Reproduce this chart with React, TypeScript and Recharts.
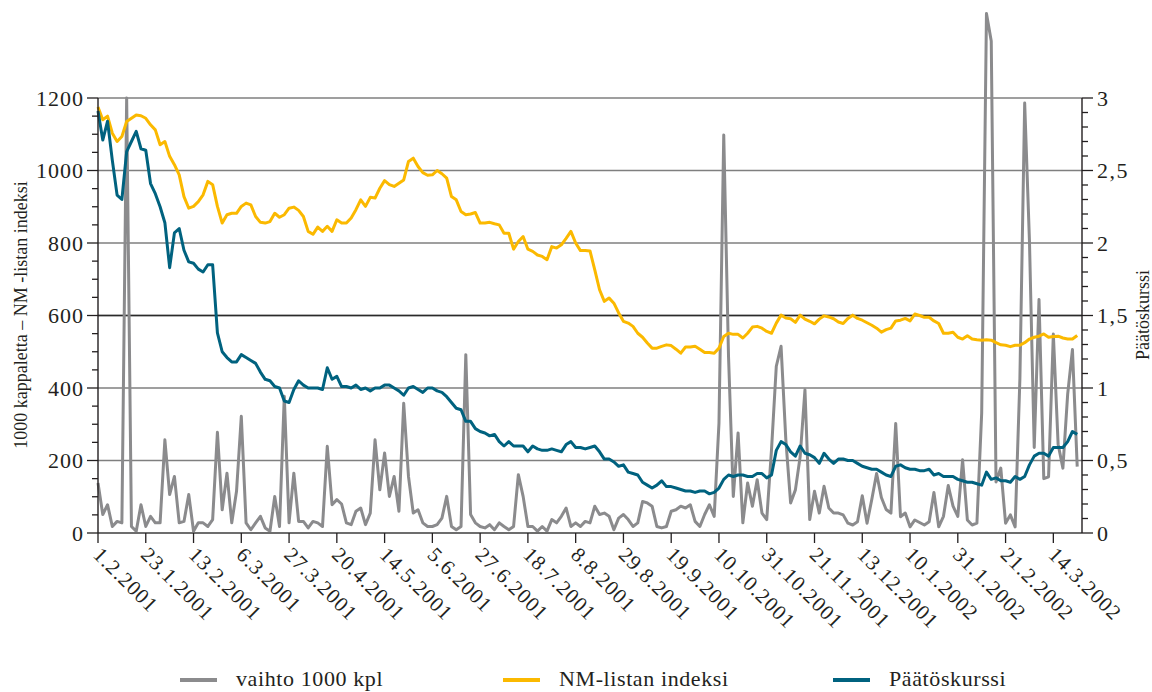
import React from 'react';
import { ComposedChart, Line, XAxis, YAxis, CartesianGrid, ReferenceLine, Label } from 'recharts';

const X_LABELS = ['1.2.2001', '23.1.2001', '13.2.2001', '6.3.2001', '27.3.2001', '20.4.2001', '14.5.2001', '5.6.2001', '27.6.2001', '18.7.2001', '8.8.2001', '29.8.2001', '19.9.2001', '10.10.2001', '31.10.2001', '21.11.2001', '13.12.2001', '10.1.2002', '31.1.2002', '21.2.2002', '14.3.2002'];
const X_TICKS = [0, 10, 20, 30, 40, 50, 60, 70, 80, 90, 100, 110, 120, 130, 140, 150, 160, 170, 180, 190, 200];
const LEFT_TICKS = [0, 50, 100, 150, 200, 250, 300, 350, 400, 450, 500, 550, 600, 650, 700, 750, 800, 850, 900, 950, 1000, 1050, 1100, 1150, 1200];
const LEFT_GRID = [0, 200, 400, 600, 800, 1000, 1200];
const RIGHT_TICKS = [0, 0.1, 0.2, 0.3, 0.4, 0.5, 0.6, 0.7, 0.8, 0.9, 1, 1.1, 1.2, 1.3, 1.4, 1.5, 1.6, 1.7, 1.8, 1.9, 2, 2.1, 2.2, 2.3, 2.4, 2.5, 2.6, 2.7, 2.8, 2.9, 3];

// vaihto 1000 kpl
const VOL = [138, 51, 78, 18, 32, 28, 1200, 18, 5, 78,
  18, 46, 28, 28, 257, 106, 156, 28, 32, 106,
  5, 28, 28, 18, 37, 278, 64, 165, 28, 115,
  322, 28, 9, 28, 46, 14, 5, 101, 18, 377,
  28, 165, 32, 32, 14, 32, 28, 18, 239, 78,
  92, 80, 28, 23, 60, 69, 23, 55, 257, 119,
  221, 101, 156, 60, 358, 156, 55, 64, 28, 18,
  18, 23, 41, 101, 18, 9, 18, 492, 51, 28,
  18, 14, 23, 9, 28, 18, 9, 18, 161, 101,
  18, 18, 5, 18, 5, 37, 28, 46, 69, 18,
  28, 18, 32, 28, 74, 51, 55, 46, 9, 41,
  51, 37, 18, 28, 87, 83, 74, 18, 14, 18,
  60, 64, 74, 69, 78, 32, 18, 51, 78, 46,
  303, 1098, 487, 101, 276, 28, 138, 74, 147, 55,
  37, 230, 460, 515, 257, 83, 119, 211, 395, 37,
  115, 55, 129, 69, 55, 55, 50, 27, 22, 31,
  103, 27, 93, 164, 98, 65, 55, 302, 45, 55,
  17, 36, 29, 22, 31, 112, 17, 46, 131, 74,
  46, 202, 36, 22, 27, 331, 1433, 1357, 141, 179,
  27, 50, 17, 426, 1186, 806, 236, 644, 150, 155,
  549, 245, 179, 383, 506, 183];

// NM-listan indeksi
const IDX = [1175, 1140, 1150, 1103, 1080, 1094, 1135, 1144, 1153, 1151,
  1144, 1126, 1112, 1071, 1080, 1039, 1016, 988, 928, 896,
  901, 914, 933, 970, 961, 901, 855, 878, 882, 882,
  901, 910, 905, 873, 857, 855, 859, 882, 871, 878,
  896, 899, 890, 873, 832, 824, 844, 832, 846, 832,
  864, 855, 855, 869, 892, 919, 901, 926, 924, 951,
  972, 961, 956, 965, 974, 1025, 1034, 1011, 994, 987,
  988, 1000, 991, 979, 928, 919, 887, 878, 880, 884,
  855, 855, 857, 853, 850, 827, 827, 783, 804, 818,
  783, 777, 767, 763, 754, 790, 786, 795, 813, 832,
  800, 779, 779, 778, 726, 671, 639, 648, 634, 607,
  584, 579, 570, 551, 540, 524, 510, 510, 515, 519,
  517, 507, 496, 513, 513, 515, 507, 498, 498, 496,
  510, 542, 551, 548, 548, 538, 551, 568, 570, 565,
  556, 551, 579, 601, 593, 591, 581, 601, 590, 584,
  577, 590, 599, 596, 591, 582, 578, 592, 601, 592,
  587, 580, 573, 565, 554, 561, 565, 585, 587, 592,
  585, 604, 600, 595, 595, 585, 578, 551, 551, 554,
  540, 535, 544, 535, 533, 532, 533, 532, 525, 519,
  518, 514, 518, 518, 525, 535, 540, 543, 549, 540,
  542, 543, 538, 535, 535, 545];

// Päätöskurssi
const PRICE = [2.91, 2.71, 2.84, 2.57, 2.33, 2.30, 2.63, 2.70, 2.77, 2.65,
  2.64, 2.41, 2.34, 2.25, 2.14, 1.83, 2.07, 2.10, 1.95, 1.87,
  1.86, 1.82, 1.80, 1.85, 1.85, 1.38, 1.25, 1.21, 1.18, 1.18,
  1.23, 1.21, 1.19, 1.17, 1.11, 1.06, 1.05, 1.01, 1.00, 0.91,
  0.90, 0.99, 1.05, 1.02, 1.00, 1.00, 1.00, 0.99, 1.14, 1.06,
  1.08, 1.01, 1.01, 1.00, 1.02, 0.99, 1.00, 0.98, 1.00, 1.00,
  1.02, 1.02, 1.00, 0.98, 0.95, 1.00, 1.01, 0.99, 0.97, 1.00,
  1.00, 0.98, 0.97, 0.94, 0.90, 0.86, 0.85, 0.77, 0.77, 0.72,
  0.70, 0.69, 0.67, 0.68, 0.63, 0.60, 0.63, 0.60, 0.60, 0.60,
  0.56, 0.60, 0.58, 0.57, 0.57, 0.58, 0.57, 0.56, 0.61, 0.63,
  0.59, 0.59, 0.58, 0.59, 0.60, 0.56, 0.51, 0.51, 0.49, 0.46,
  0.47, 0.42, 0.41, 0.40, 0.35, 0.33, 0.31, 0.33, 0.36, 0.32,
  0.32, 0.31, 0.30, 0.29, 0.29, 0.28, 0.29, 0.29, 0.27, 0.28,
  0.31, 0.37, 0.40, 0.39, 0.40, 0.40, 0.39, 0.39, 0.41, 0.41,
  0.38, 0.40, 0.57, 0.63, 0.61, 0.56, 0.53, 0.60, 0.55, 0.54,
  0.52, 0.48, 0.55, 0.51, 0.48, 0.51, 0.51, 0.50, 0.50, 0.48,
  0.46, 0.45, 0.44, 0.44, 0.42, 0.40, 0.39, 0.46, 0.47, 0.45,
  0.44, 0.44, 0.43, 0.43, 0.44, 0.40, 0.41, 0.39, 0.39, 0.39,
  0.37, 0.36, 0.35, 0.35, 0.34, 0.33, 0.42, 0.37, 0.38, 0.36,
  0.36, 0.35, 0.39, 0.37, 0.39, 0.47, 0.53, 0.55, 0.55, 0.53,
  0.59, 0.59, 0.59, 0.63, 0.70, 0.68];

const rows = VOL.map((v, i) => ({ i, vol: v, idx: IDX[i], price: PRICE[i] }));

const FONT = '"Liberation Serif", "DejaVu Serif", serif';
const INK = '#231f20';
const GRAY = '#8b8b8d';
const YELLOW = '#fbb900';
const TEAL = '#00627f';

const LeftTick = (props: any) => {
  const { x, y, payload } = props;
  const v = payload.value;
  const major = v % 200 === 0;
  return (
    <g>
      <line x1={x - (major ? 11 : 6)} x2={x} y1={y} y2={y} stroke={INK} strokeWidth={1.3} />
      {major && (
        <text x={x - 14} y={y} dy="0.35em" textAnchor="end" fontSize={22} letterSpacing={1} fill={INK} fontFamily={FONT}>
          {v}
        </text>
      )}
    </g>
  );
};

const RightTick = (props: any) => {
  const { x, y, payload } = props;
  const v = payload.value;
  const major = Math.abs(v * 2 - Math.round(v * 2)) < 1e-6;
  const label = String(Math.round(v * 10) / 10).replace('.', ',');
  return (
    <g>
      <line x1={x} x2={x + (major ? 11 : 6)} y1={y} y2={y} stroke={INK} strokeWidth={1.3} />
      {major && (
        <text x={x + 15} y={y} dy="0.35em" textAnchor="start" fontSize={22} letterSpacing={1.5} fill={INK} fontFamily={FONT}>
          {label}
        </text>
      )}
    </g>
  );
};

const XTick = (props: any) => {
  const { x, y, payload } = props;
  const label = X_LABELS[Math.round(payload.value / 10)];
  const tx = x - 6;
  const ty = y + 23;
  return (
    <g>
      <line x1={x} x2={x} y1={y} y2={y + 10} stroke={INK} strokeWidth={1.3} />
      <text x={tx} y={ty} transform={`rotate(45 ${tx} ${ty})`} textAnchor="start" fontSize={21} letterSpacing={1} fill={INK} fontFamily={FONT}>
        {label}
      </text>
    </g>
  );
};

const LEGEND = [
  { name: 'vaihto 1000 kpl', color: GRAY, x: 180 },
  { name: 'NM-listan indeksi', color: YELLOW, x: 503 },
  { name: 'Päätöskurssi', color: TEAL, x: 833 },
];

export default function App() {
  return (
    <div style={{ position: 'absolute', left: 0, top: 0, width: 1152, height: 692, background: '#fff', overflow: 'hidden' }}>
      <style>{`.vol-line, .vol-line * { clip-path: none !important; }`}</style>
      <ComposedChart width={1152} height={692} data={rows} margin={{ top: 98, right: 10, bottom: 59, left: 8 }}>
        <CartesianGrid vertical={false} horizontal stroke="#7f7f7f" strokeWidth={1.6} horizontalValues={LEFT_GRID} />
        <ReferenceLine y={600} stroke="#2a2a2a" strokeWidth={1.6} />
        <XAxis
          type="number"
          dataKey="i"
          domain={[0, 206]}
          ticks={X_TICKS}
          interval={0}
          tick={<XTick />}
          tickLine={false}
          tickSize={0}
          tickMargin={0}
          axisLine={{ stroke: '#6d6d6d', strokeWidth: 2.2 }}
          height={100}
        />
        <YAxis
          domain={[0, 1200]}
          allowDataOverflow
          ticks={LEFT_TICKS}
          interval={0}
          tick={<LeftTick />}
          tickLine={false}
          tickSize={0}
          tickMargin={0}
          axisLine={{ stroke: INK, strokeWidth: 1.4 }}
          width={90}
        >
          <Label
            content={() => (
              <text x={21} y={315} transform="rotate(-90 21 315)" textAnchor="middle" dy="0.35em" fontSize={18} fill={INK} fontFamily={FONT}>
                1000 kappaletta – NM -listan indeksi
              </text>
            )}
          />
        </YAxis>
        <YAxis
          yAxisId="right"
          orientation="right"
          domain={[0, 3]}
          ticks={RIGHT_TICKS}
          interval={0}
          tick={<RightTick />}
          tickLine={false}
          tickSize={0}
          tickMargin={0}
          axisLine={{ stroke: INK, strokeWidth: 1.4 }}
          width={60}
        >
          <Label
            content={() => (
              <text x={1143} y={315} transform="rotate(-90 1143 315)" textAnchor="middle" dy="0.35em" fontSize={18} fill={INK} fontFamily={FONT}>
                Päätöskurssi
              </text>
            )}
          />
        </YAxis>
        <Line className="vol-line" type="linear" dataKey="vol" name="vaihto 1000 kpl" stroke={GRAY} strokeWidth={3} strokeLinejoin="round" dot={false} activeDot={false} isAnimationActive={false} />
        <Line type="linear" dataKey="idx" name="NM-listan indeksi" stroke={YELLOW} strokeWidth={3} strokeLinejoin="round" dot={false} activeDot={false} isAnimationActive={false} />
        <Line yAxisId="right" type="linear" dataKey="price" name="Päätöskurssi" stroke={TEAL} strokeWidth={3} strokeLinejoin="round" dot={false} activeDot={false} isAnimationActive={false} />
      </ComposedChart>
      <svg width={1152} height={692} style={{ position: 'absolute', left: 0, top: 0, pointerEvents: 'none' }}>
        {LEGEND.map((it) => (
          <g key={it.name}>
            <rect x={it.x} y={678} width={37} height={4} fill={it.color} />
            <text x={it.x + 56} y={686} fontSize={22} letterSpacing={0.6} fill={INK} fontFamily={FONT}>
              {it.name}
            </text>
          </g>
        ))}
      </svg>
    </div>
  );
}
